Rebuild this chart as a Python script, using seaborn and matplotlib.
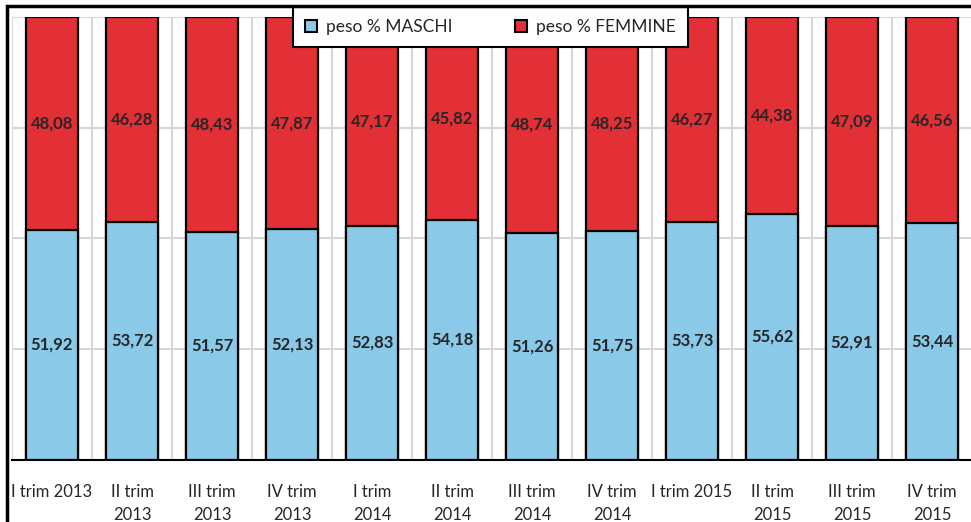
import matplotlib
matplotlib.use("Agg")
import matplotlib.pyplot as plt
from matplotlib.patches import Rectangle, Patch
import seaborn as sns
import numpy as np

# dati: peso % per trimestre
trimestri = ["I trim 2013", "II trim\n2013", "III trim\n2013", "IV trim\n2013",
             "I trim\n2014", "II trim\n2014", "III trim\n2014", "IV trim\n2014",
             "I trim 2015", "II trim\n2015", "III trim\n2015", "IV trim\n2015"]
maschi = [51.92, 53.72, 51.57, 52.13, 52.83, 54.18, 51.26, 51.75, 53.73, 55.62, 52.91, 53.44]
femmine = [48.08, 46.28, 48.43, 47.87, 47.17, 45.82, 48.74, 48.25, 46.27, 44.38, 47.09, 46.56]

col_m = "#8AC9E8"
col_f = "#E32F36"

sns.set_style("white")
plt.rcParams['font.family'] = ['Lato', 'DejaVu Sans']

fig = plt.figure(figsize=(9.71, 5.22), dpi=100)
ax = fig.add_axes([12/971, 1 - 460/522, 960/971, 443/522])

totale = [m + f for m, f in zip(maschi, femmine)]
sns.barplot(x=trimestri, y=totale, color=col_f, edgecolor="black", linewidth=1.6,
            width=0.66, saturation=1, ax=ax, zorder=3)
sns.barplot(x=trimestri, y=maschi, color=col_m, edgecolor="black", linewidth=1.6,
            width=0.66, saturation=1, ax=ax, zorder=4)

# etichette valori
for i, (m, f) in enumerate(zip(maschi, femmine)):
    ax.text(i, m / 2, f"{m:.2f}".replace(".", ","), ha="center", va="center",
            fontsize=12, fontweight="bold", zorder=5)
    ax.text(i, m + f / 2, f"{f:.2f}".replace(".", ","), ha="center", va="center",
            fontsize=12, fontweight="bold", zorder=5)

ax.set_xlim(-0.5, len(trimestri) - 0.5)
ax.set_ylim(0, 100)
ax.set_yticks([0, 25, 50, 75, 100])
ax.set_yticklabels([])
ax.tick_params(axis="y", length=0)
ax.set_xticks(np.arange(len(trimestri)) - 0.5, minor=True)
ax.tick_params(axis="x", which="major", length=0, labelsize=12, pad=17)
for lbl in ax.get_xticklabels():
    lbl.set_linespacing(1.55)
ax.tick_params(axis="x", which="minor", length=5, width=1.8, color="black", direction="out")
ax.grid(axis="y", color="#D6D6D6", linewidth=1.5, zorder=0)
ax.grid(axis="x", which="minor", color="#D6D6D6", linewidth=1.5, zorder=0)
ax.set_axisbelow(True)
for s in ["top", "right", "left"]:
    ax.spines[s].set_visible(False)
ax.spines["bottom"].set_linewidth(1.5)
ax.spines["bottom"].set_color("black")
ax.set_xlabel("")
ax.set_ylabel("")

handles = [Patch(facecolor=col_m, edgecolor="black", linewidth=1.5, label="peso % MASCHI"),
           Patch(facecolor=col_f, edgecolor="black", linewidth=1.5, label="peso % FEMMINE")]
leg = fig.legend(handles=handles, loc="upper left", bbox_to_anchor=(293/971, 1 - 7/522),
                 ncol=2, frameon=True, fancybox=False, framealpha=1, fontsize=12.5,
                 handlelength=0.7, handleheight=0.7, columnspacing=3.6, handletextpad=0.5,
                 borderpad=0.7, borderaxespad=0)
leg.get_frame().set_edgecolor("black")
leg.get_frame().set_linewidth(1.5)
leg.set_zorder(10)

# cornice esterna
fig.patches.append(Rectangle((7/971, -0.1), 1.2, 1.1 - 6/522, transform=fig.transFigure,
                             fill=False, edgecolor="black", linewidth=2.5, zorder=20))

fig.savefig("out.png", dpi=100)
